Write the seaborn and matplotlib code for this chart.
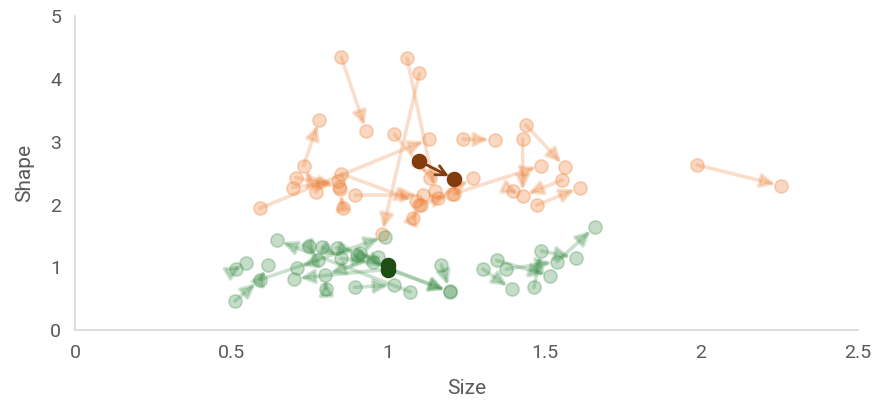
import matplotlib
matplotlib.use("Agg")
import matplotlib.pyplot as plt
import seaborn as sns
import pandas as pd

# orange moves: start -> end (size, shape)
orange_x0 = [0.85, 1.06, 1.10, 1.02, 0.59, 0.77, 0.73, 0.695, 0.855, 0.85, 0.895, 1.24, 1.43, 1.44, 1.21, 1.557, 1.476, 1.987, 1.08, 1.16, 0.705, 1.40, 1.105]
orange_y0 = [4.35, 4.33, 4.09, 3.12, 1.94, 2.20, 2.62, 2.27, 1.94, 2.49, 2.15, 3.04, 3.04, 3.27, 2.17, 2.39, 1.99, 2.63, 1.78, 2.10, 2.43, 2.21, 2.00]
orange_x1 = [0.93, 1.15, 0.98, 1.135, 1.13, 0.73, 0.78, 0.84, 0.847, 1.09, 1.11, 1.34, 1.43, 1.565, 1.49, 1.43, 1.613, 2.255, 1.10, 1.27, 0.843, 1.43, 1.205]
orange_y1 = [3.17, 2.22, 1.53, 2.43, 3.04, 2.62, 3.35, 2.37, 2.24, 2.05, 2.15, 3.03, 2.14, 2.60, 2.62, 2.14, 2.27, 2.30, 2.00, 2.42, 2.28, 2.14, 2.17]

# green moves
green_x0 = [0.51, 0.59, 0.59, 1.07, 0.893, 1.17, 1.00, 0.515, 0.747, 0.79, 0.835, 0.90, 0.85, 0.777, 0.801, 1.303, 1.54, 1.466, 1.378, 1.347, 1.49, 0.91, 0.953, 0.968, 1.00]
green_y0 = [0.46, 0.80, 0.80, 0.61, 0.68, 1.04, 0.97, 0.98, 1.34, 1.32, 1.31, 1.19, 1.14, 1.11, 0.66, 0.97, 1.09, 0.68, 0.97, 1.11, 1.26, 1.23, 1.08, 1.16, 0.97]
green_x1 = [0.59, 0.615, 0.99, 0.645, 1.02, 1.197, 0.70, 0.545, 0.777, 0.85, 0.91, 0.968, 0.953, 0.708, 0.798, 1.395, 1.66, 1.49, 1.54, 1.517, 1.60, 1.00, 1.197, 0.798, 1.197]
green_y1 = [0.80, 1.03, 1.49, 1.43, 0.72, 0.63, 0.82, 1.07, 1.11, 1.14, 1.23, 1.16, 1.08, 0.99, 0.88, 0.65, 1.64, 1.26, 1.09, 0.86, 1.15, 0.97, 0.61, 0.88, 0.61]

# highlighted moves
dark_orange = [1.10, 2.69, 1.21, 2.41]
dark_green = [1.00, 1.04, 1.00, 0.96]

orange_c = "#ED7D31"
green_c = "#3F8F4A"
dark_orange_c = "#843C0C"
dark_green_c = "#1F4E14"

plt.rcParams["font.family"] = ["Roboto", "DejaVu Sans"]
fig = plt.figure(figsize=(8.75, 4.04), dpi=100)
ax = fig.add_axes([0.086, 0.183, 0.894, 0.777])


def draw_moves(x0, y0, x1, y1, color, alpha_line, alpha_pt, size=90,
               style="-|>", lw=2.6, mscale=21):
    for a, b, c, d in zip(x0, y0, x1, y1):
        ax.annotate("", xy=(c, d), xytext=(a, b),
                    arrowprops=dict(arrowstyle=style, mutation_scale=mscale, lw=lw,
                                    color=color, alpha=alpha_line,
                                    shrinkA=0, shrinkB=4))
    pts = pd.DataFrame({"x": list(x0) + list(x1), "y": list(y0) + list(y1)})
    pts = pts.round(3).drop_duplicates()
    sns.scatterplot(data=pts, x="x", y="y", ax=ax, s=size, color=color,
                    alpha=alpha_pt, edgecolor=color, linewidth=1.2, zorder=3)


draw_moves(orange_x0, orange_y0, orange_x1, orange_y1, orange_c, 0.25, 0.3)
draw_moves(green_x0, green_y0, green_x1, green_y1, green_c, 0.27, 0.3)
draw_moves([dark_orange[0]], [dark_orange[1]], [dark_orange[2]], [dark_orange[3]],
           dark_orange_c, 1.0, 1.0, size=100, style="->", lw=2.0, mscale=18)
draw_moves([dark_green[0]], [dark_green[1]], [dark_green[2]], [dark_green[3]],
           dark_green_c, 1.0, 1.0, size=100, style="-", lw=2.0)

ax.set_xlim(0, 2.5)
ax.set_ylim(0, 5)
ax.set_xticks([0, 0.5, 1, 1.5, 2, 2.5])
ax.set_xticklabels(["0", "0.5", "1", "1.5", "2", "2.5"])
ax.set_yticks([0, 1, 2, 3, 4, 5])
ax.set_xlabel("Size", fontsize=15, color="#595959", labelpad=12)
ax.set_ylabel("Shape", fontsize=15, color="#595959", labelpad=12)
ax.tick_params(axis="both", length=0, labelsize=14, labelcolor="#595959", pad=10)
for s in ["top", "right"]:
    ax.spines[s].set_visible(False)
for s in ["left", "bottom"]:
    ax.spines[s].set_color("#D9D9D9")
    ax.spines[s].set_linewidth(1.2)

fig.savefig("out.png", dpi=100)
